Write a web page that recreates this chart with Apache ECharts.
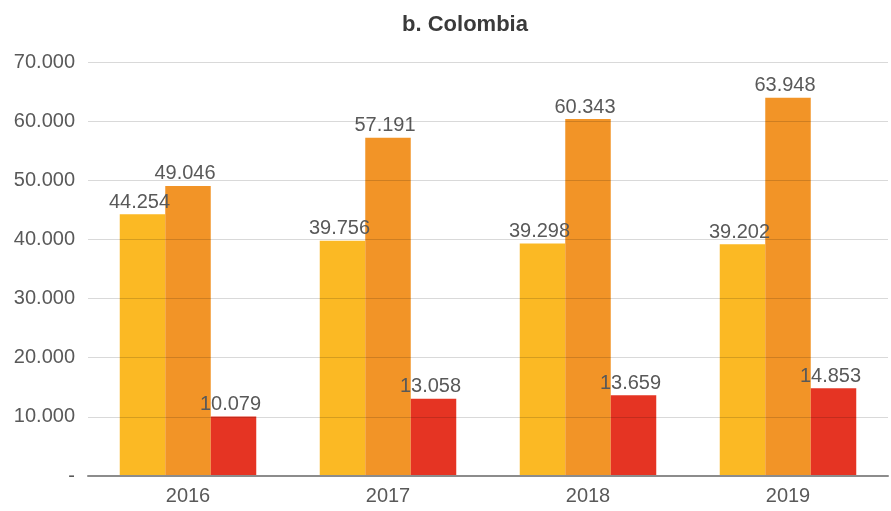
<!DOCTYPE html>
<html>
<head>
<meta charset="utf-8">
<script src="https://cdn.jsdelivr.net/npm/echarts@6/dist/echarts.min.js"></script>
<style>
  html, body { margin: 0; padding: 0; background: #fff; }
  #chart { width: 891px; height: 511px; }
</style>
</head>
<body>
<div id="chart"></div>
<script>
// data
const years = ['2016', '2017', '2018', '2019'];
const serieA = [44254, 39756, 39298, 39202];   // yellow
const serieB = [49046, 57191, 60343, 63948];   // orange
const serieC = [10079, 13058, 13659, 14853];   // red
const colors = ['#FBB924', '#F29427', '#E53423'];

// 44254 -> "44.254"
const fmt = v => v === 0 ? '-' : String(Math.round(v)).replace(/\B(?=(\d{3})+(?!\d))/g, '.');

const textColor = '#595959';
const font = 'Liberation Sans, Arial, sans-serif';

const mkSeries = (name, data, color) => ({
  name: name,
  type: 'bar',
  data: data,
  barWidth: 45.5,
  barGap: 0,
  itemStyle: { color: color },
  label: {
    show: true,
    position: 'top',
    distance: 2,
    offset: [-3, 0],
    color: textColor,
    fontFamily: font,
    fontSize: 20,
    formatter: p => fmt(p.value)
  },
  z: 2
});

const option = {
  animation: false,
  backgroundColor: '#fff',
  title: {
    text: 'b. Colombia',
    left: 460,
    textAlign: 'center',
    top: 9,
    textStyle: { fontFamily: font, fontSize: 22, fontWeight: 'bold', color: '#3a3a3a' }
  },
  grid: { left: 88, right: 3, top: 62, bottom: 35 },
  xAxis: {
    type: 'category',
    data: years,
    axisTick: { show: false },
    axisLine: { lineStyle: { color: '#8c8c8c', width: 2 } },
    axisLabel: { color: textColor, fontFamily: font, fontSize: 20, margin: 10 },
    z: 5
  },
  yAxis: {
    type: 'value',
    min: 0,
    max: 70000,
    interval: 10000,
    axisLine: { show: false },
    axisTick: { show: false },
    axisLabel: { color: textColor, fontFamily: font, fontSize: 20, margin: 13, formatter: fmt },
    splitLine: { lineStyle: { color: 'rgba(0,0,0,0.15)', width: 1 } },
    z: 4
  },
  series: [
    mkSeries('A', serieA, colors[0]),
    mkSeries('B', serieB, colors[1]),
    mkSeries('C', serieC, colors[2])
  ]
};

const chart = echarts.init(document.getElementById('chart'));
chart.setOption(option);
</script>
</body>
</html>
